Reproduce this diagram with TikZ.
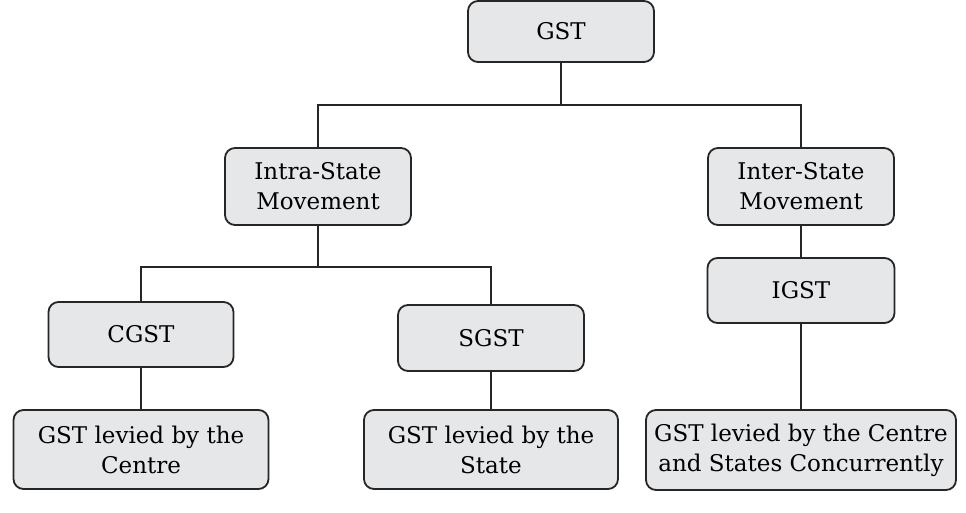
\documentclass[tikz,border=0pt]{standalone}
\usepackage{fontspec}
\setmainfont{DejaVu Serif}
\begin{document}
\begin{tikzpicture}[x=1pt,y=-1pt,
  box/.style={draw=black!85, fill=boxgray, line width=1.8pt, rounded corners=10pt,
    align=center, inner sep=0pt, font=\fontsize{23}{30}\selectfont},
  conn/.style={draw=black!85, line width=2pt}]
\definecolor{boxgray}{HTML}{E6E7E9}
\useasboundingbox (0,0) rectangle (966,512);
\node[box, minimum width=186pt, minimum height=61pt] (gst) at (561,31.5) {GST};
\node[box, minimum width=186pt, minimum height=77pt] (intra) at (318,186.5) {Intra-State\\Movement};
\node[box, minimum width=186pt, minimum height=77pt] (inter) at (801,186.5) {Inter-State\\Movement};
\node[box, minimum width=187pt, minimum height=65pt] (igst) at (801,290.5) {IGST};
\node[box, minimum width=185pt, minimum height=65pt] (cgst) at (141,334.5) {CGST};
\node[box, minimum width=186pt, minimum height=66pt] (sgst) at (491,338) {SGST};
\node[box, minimum width=255pt, minimum height=79pt] (bl) at (141,449.5) {GST levied by the\\Centre};
\node[box, minimum width=254pt, minimum height=79pt] (bm) at (491,449.5) {GST levied by the\\State};
\node[box, minimum width=310pt, minimum height=80pt] (br) at (801,450) {GST levied by the Centre\\and States Concurrently};
\coordinate (b1) at (561,105);
\coordinate (b2) at (318,267);
\draw[conn] (gst.south) -- (b1);
\draw[conn] (intra.north) |- (b1) -| (inter.north);
\draw[conn] (intra.south) -- (b2);
\draw[conn] (cgst.north) |- (b2) -| (sgst.north);
\draw[conn] (inter.south) -- (igst.north);
\draw[conn] (igst.south) -- (br.north);
\draw[conn] (cgst.south) -- (bl.north);
\draw[conn] (sgst.south) -- (bm.north);
\end{tikzpicture}
\end{document}
